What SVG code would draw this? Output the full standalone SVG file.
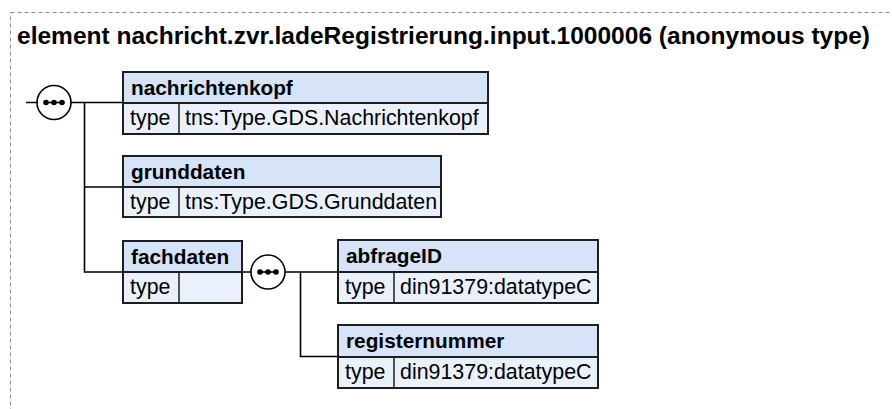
<svg xmlns="http://www.w3.org/2000/svg" width="892" height="409" viewBox="0 0 892 409">
<style>
.frame{fill:none;stroke:#8a8a8a;stroke-width:1;stroke-dasharray:4,3}
.title{font-family:"Liberation Sans",Arial,sans-serif;font-weight:bold;font-size:24.4px;fill:#000}
.hdr{fill:#d6e3f8;stroke:#1e1e1e;stroke-width:2}
.row{fill:#eaf1fc;stroke:#1e1e1e;stroke-width:2}
.sep{stroke:#1e1e1e;stroke-width:1.5}
.name{font-family:"Liberation Sans",Arial,sans-serif;font-weight:bold;font-size:20.8px;fill:#000}
.lbl{font-family:"Liberation Sans",Arial,sans-serif;font-size:21.4px;fill:#000}
.ln{fill:none;stroke:#000;stroke-width:1.6}
.seq{fill:#fff;stroke:#000;stroke-width:1.6}
</style>
<rect class="frame" x="10.5" y="12.5" width="900" height="420"/>
<text class="title" x="17" y="44" textLength="853" lengthAdjust="spacingAndGlyphs">element nachricht.zvr.ladeRegistrierung.input.1000006 (anonymous type)</text>
<g id="connectors">
<path class="ln" d="M26,102.5 H37 M71,102.5 H123 M84.5,102.5 V272 H123 M84.5,187 H123"/>
<path class="ln" d="M242,272 H251 M285,272 H338 M300.5,272 V356.5 H338"/>
</g>
<g id="seq1">
<circle class="seq" cx="54" cy="102.5" r="17"/>
<path class="ln" d="M46,102.5 H62"/>
<circle cx="46" cy="102.5" r="2.8"/><circle cx="54" cy="102.5" r="2.8"/><circle cx="62" cy="102.5" r="2.8"/>
</g>
<g id="seq2">
<circle class="seq" cx="268" cy="272" r="17"/>
<path class="ln" d="M260,272 H276"/>
<circle cx="260" cy="272" r="2.8"/><circle cx="268" cy="272" r="2.8"/><circle cx="276" cy="272" r="2.8"/>
</g>
<g id="nachrichtenkopf">
<rect class="hdr" x="123" y="72" width="365" height="31"/>
<rect class="row" x="123" y="103" width="365" height="31"/>
<line class="sep" x1="179" y1="103" x2="179" y2="134"/>
<text class="name" x="131" y="95">nachrichtenkopf</text>
<text class="lbl" x="130" y="125">type</text>
<text class="lbl" x="185" y="125">tns:Type.GDS.Nachrichtenkopf</text>
</g>
<g id="grunddaten">
<rect class="hdr" x="123" y="156" width="318" height="31"/>
<rect class="row" x="123" y="187" width="318" height="30"/>
<line class="sep" x1="179" y1="187" x2="179" y2="217"/>
<text class="name" x="131" y="179">grunddaten</text>
<text class="lbl" x="130" y="209">type</text>
<text class="lbl" x="185" y="209">tns:Type.GDS.Grunddaten</text>
</g>
<g id="fachdaten">
<rect class="hdr" x="123" y="241" width="119" height="31"/>
<rect class="row" x="123" y="272" width="119" height="31"/>
<line class="sep" x1="179" y1="272" x2="179" y2="303"/>
<text class="name" x="131" y="264">fachdaten</text>
<text class="lbl" x="130" y="294">type</text>
</g>
<g id="abfrageID">
<rect class="hdr" x="338" y="240" width="260" height="32"/>
<rect class="row" x="338" y="272" width="260" height="31"/>
<line class="sep" x1="394" y1="272" x2="394" y2="303"/>
<text class="name" x="346" y="263">abfrageID</text>
<text class="lbl" x="345" y="294">type</text>
<text class="lbl" x="400" y="294">din91379:datatypeC</text>
</g>
<g id="registernummer">
<rect class="hdr" x="338" y="325" width="260" height="32"/>
<rect class="row" x="338" y="357" width="260" height="31"/>
<line class="sep" x1="394" y1="357" x2="394" y2="388"/>
<text class="name" x="346" y="348">registernummer</text>
<text class="lbl" x="345" y="379">type</text>
<text class="lbl" x="400" y="379">din91379:datatypeC</text>
</g>
</svg>
